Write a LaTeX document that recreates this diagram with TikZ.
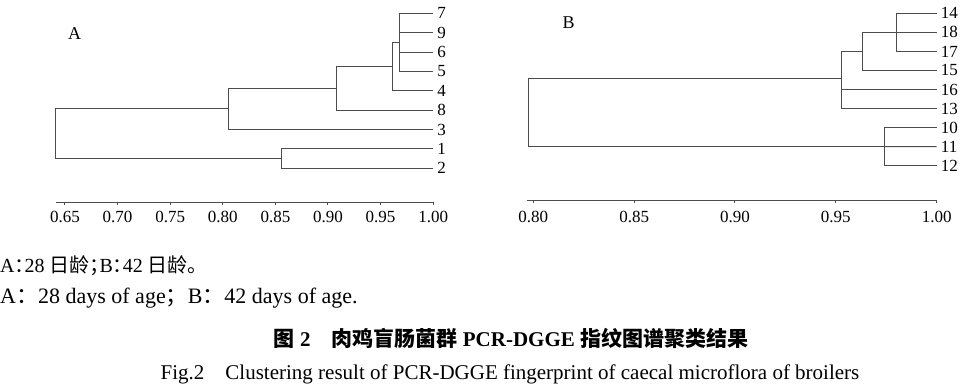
\documentclass[tikz,border=0pt]{standalone}
\usepackage{fontspec}
\setmainfont{Liberation Serif}
\newfontfamily\cjk{Noto Sans CJK SC}
\newfontfamily\cjkhalt{Noto Sans CJK SC}[RawFeature=+halt]
\tikzset{>=stealth}
\tikzset{
  branch/.style={black!70, line width=1pt},
  leaf/.style={anchor=west, inner xsep=4pt, inner ysep=0pt, font=\fontsize{17}{17}\selectfont},
  ticklab/.style={inner sep=0pt, font=\fontsize{17}{17}\selectfont},
  panel/.style={inner sep=0pt, font=\fontsize{18}{18}\selectfont},
  note/.style={anchor=base west, inner sep=0pt},
  capline/.style={anchor=base, inner sep=0pt, font=\fontsize{21}{21}\selectfont}
}

\begin{document}
\begin{tikzpicture}[x=1pt, y=-1pt]
\useasboundingbox (0,0) rectangle (963,385);

% A: 28 days
\node[panel] (panA) at (74.5,34) {A};
\begin{scope}[x=1052pt, xshift=-618.8pt]
\foreach \lab [count=\i from 0] in {7,9,6,5,4,8,3,1,2}
  \node[leaf] (a\lab) at (1.00, 13.3+19.375*\i) {\lab};
\coordinate (aC1) at (0.968, 42.35);
\coordinate (aC2) at (0.961, 66.6);
\coordinate (aC3) at (0.908, 88.4);
\coordinate (aC4) at (0.805, 109);
\coordinate (aC5) at (0.856, 158.6);
\coordinate (aRoot) at (0.641, 133.8);
\draw[branch] (a7.west) -| (aC1) |- (a5.west);
\draw[branch] (a9.west) -- (a9.west -| aC1);
\draw[branch] (a6.west) -- (a6.west -| aC1);
\draw[branch] (aC1) -| (aC2) |- (a4.west);
\draw[branch] (aC2) -| (aC3) |- (a8.west);
\draw[branch] (aC3) -| (aC4) |- (a3.west);
\draw[branch] (a1.west) -| (aC5) |- (a2.west);
\draw[branch] (aC4) -| (aRoot) |- (aC5);
% axis
\coordinate (aAx0) at (0.6414,202);
\coordinate (aAx1) at (1.00,202);
\draw[branch] (aAx0) -- (aAx1);
\foreach \v [count=\k] in {0.65,0.70,0.75,0.80,0.85,0.90,0.95,1.00}{
  \draw[branch] (\v,202) -- ++(0,3);
  \node[ticklab] (aT\k) at (\v,217) {\v};
}
\end{scope}

% B: 42 days
\node[panel] (panB) at (568.5,23) {B};
\begin{scope}[x=2017pt, xshift=-1080.3pt]
\foreach \lab [count=\i from 0] in {14,18,17,15,16,13,10,11,12}
  \node[leaf] (b\lab) at (1.00, 13.3+19.05*\i) {\lab};
\coordinate (bC1) at (0.980, 32.35);
\coordinate (bC2) at (0.963, 51.4);
\coordinate (bC3) at (0.953, 79);
\coordinate (bC4) at (0.974, 146.65);
\coordinate (bRoot) at (0.7975, 112.8);
\draw[branch] (b14.west) -| (bC1) |- (b17.west);
\draw[branch] (b18.west) -- (bC1);
\draw[branch] (bC1) -| (bC2) |- (b15.west);
\draw[branch] (bC2) -| (bC3) |- (b13.west);
\draw[branch] (b16.west) -- (b16.west -| bC3);
\draw[branch] (b10.west) -| (bC4) |- (b12.west);
\draw[branch] (b11.west) -- (bC4);
\draw[branch] (bC3) -| (bRoot) |- (bC4);
% axis
\coordinate (bAx0) at (0.7967,200);
\coordinate (bAx1) at (1.00,200);
\draw[branch] (bAx0) -- (bAx1);
\foreach \v [count=\k] in {0.80,0.85,0.90,0.95,1.00}{
  \draw[branch] (\v,200) -- ++(0,3);
  \node[ticklab] (bT\k) at (\v,217) {\v};
}
\end{scope}

% notes and caption
\node[note, font=\fontsize{20}{20}\selectfont] (noteCN) at (0,272)
  {A{\cjkhalt ：}28 {\cjk 日龄}{\cjkhalt ；}B{\cjkhalt ：}42 {\cjk 日龄。}};
\node[note, font=\fontsize{22}{22}\selectfont] (noteEN) at (0,303)
  {A{\cjk ：}28 days of age{\cjk ；}B{\cjk ：}42 days of age.};
\node[capline] (capCN) at (511,346)
  {\bfseries{\cjk 图} 2\quad{\cjk 肉鸡盲肠菌群} PCR-DGGE {\cjk 指纹图谱聚类结果}};
\node[capline] (capEN) at (510,379)
  {Fig.2\quad Clustering result of PCR-DGGE fingerprint of caecal microflora of broilers};
\end{tikzpicture}
\end{document}
